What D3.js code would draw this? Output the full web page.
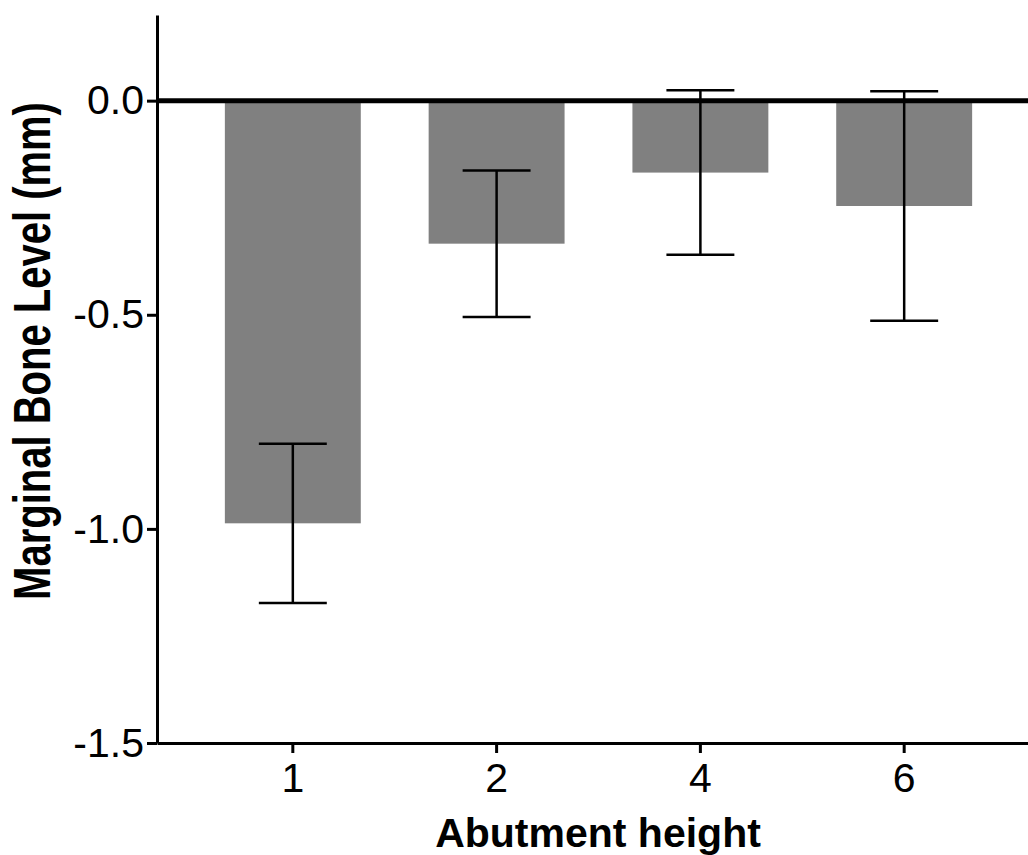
<!DOCTYPE html>
<html>
<head>
<meta charset="utf-8">
<script src="https://cdn.jsdelivr.net/npm/d3@7"></script>
<style>
  html, body { margin: 0; padding: 0; background: #fff; }
  svg { display: block; font-family: "Liberation Sans", Arial, sans-serif; }
</style>
</head>
<body>
<script>
const categories = ["1", "2", "4", "6"];
const means = [-0.987, -0.334, -0.168, -0.246];
const errors = [0.186, 0.171, 0.192, 0.268];
const yTicks = [-1.5, -1.0, -0.5, 0.0];
const xTitle = "Abutment height";
const yTitle = "Marginal Bone Level (mm)";

const W = 1028, H = 855;
const svg = d3.select("body").append("svg").attr("width", W).attr("height", H);

const x = d3.scaleBand().domain(categories).range([157, 1040]).paddingInner(0.333).paddingOuter(0.333);
const y = d3.scaleLinear().domain([-1.5, 0.2]).range([743, 15]);

const data = categories.map((c, i) => ({ c, m: means[i], e: errors[i] }));

// bars
svg.selectAll("rect.bar").data(data).join("rect")
  .attr("class", "bar")
  .attr("x", d => x(d.c))
  .attr("width", x.bandwidth())
  .attr("y", d => y(Math.max(0, d.m)))
  .attr("height", d => Math.abs(y(d.m) - y(0)))
  .attr("fill", "#808080");

// zero line
svg.append("line")
  .attr("x1", 157).attr("x2", W)
  .attr("y1", y(0)).attr("y2", y(0))
  .attr("stroke", "#000").attr("stroke-width", 5);

// error bars
const eg = svg.selectAll("g.err").data(data).join("g").attr("class", "err");
const cx = d => x(d.c) + x.bandwidth() / 2;
const capHalf = x.bandwidth() / 4;
eg.append("line")
  .attr("x1", cx).attr("x2", cx)
  .attr("y1", d => y(d.m + d.e)).attr("y2", d => y(d.m - d.e))
  .attr("stroke", "#000").attr("stroke-width", 2.5);
eg.append("line")
  .attr("x1", d => cx(d) - capHalf).attr("x2", d => cx(d) + capHalf)
  .attr("y1", d => y(d.m + d.e)).attr("y2", d => y(d.m + d.e))
  .attr("stroke", "#000").attr("stroke-width", 2.5);
eg.append("line")
  .attr("x1", d => cx(d) - capHalf).attr("x2", d => cx(d) + capHalf)
  .attr("y1", d => y(d.m - d.e)).attr("y2", d => y(d.m - d.e))
  .attr("stroke", "#000").attr("stroke-width", 2.5);

// y axis
const fmt = v => d3.format(".1f")(v).replace("\u2212", "-");
const yAxis = svg.append("g").attr("transform", "translate(157,0)")
  .call(d3.axisLeft(y).tickValues(yTicks).tickFormat(fmt).tickSize(10).tickSizeOuter(0).tickPadding(3));
yAxis.select(".domain").attr("stroke-width", 3);
yAxis.selectAll(".tick line").attr("stroke-width", 3);
yAxis.selectAll(".tick text").attr("font-size", 41).attr("fill", "#000")
  .attr("font-family", "'Liberation Sans', Arial, sans-serif");

// x axis
const xAxis = svg.append("g").attr("transform", "translate(0,743)")
  .call(d3.axisBottom(x).tickSize(10).tickSizeOuter(0).tickPadding(10));
xAxis.select(".domain").attr("stroke-width", 3);
xAxis.selectAll(".tick line").attr("stroke-width", 3);
xAxis.selectAll(".tick text").attr("font-size", 41).attr("fill", "#000")
  .attr("font-family", "'Liberation Sans', Arial, sans-serif");

// titles
svg.append("text")
  .attr("x", 598).attr("y", 847)
  .attr("text-anchor", "middle")
  .attr("font-size", 41).attr("font-weight", "bold")
  .text(xTitle);

svg.append("text")
  .attr("transform", "translate(50,351) rotate(-90) scale(1,1.28)")
  .attr("text-anchor", "middle")
  .attr("font-size", 40).attr("font-weight", "bold")
  .text(yTitle);
</script>
</body>
</html>
